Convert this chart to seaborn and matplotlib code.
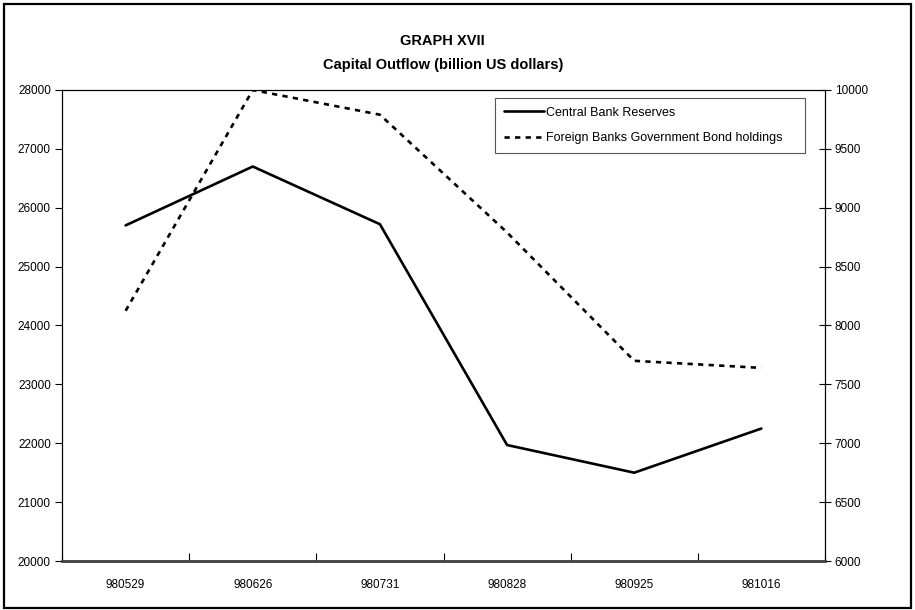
# ----------------------------------------------------------
# GRAPH XVII - capital outflow, two axes line chart
# ----------------------------------------------------------
import seaborn as sns
import pandas as pd
import matplotlib.pyplot as plt
from matplotlib.patches import Rectangle
from matplotlib.ticker import FixedLocator, NullFormatter

# ----------------------------------------------------------
# data
# ----------------------------------------------------------
dates = ['980529', '980626', '980731', '980828', '980925', '981016']
reserves = [25700, 26700, 25720, 21970, 21500, 22250]
bond_holdings = [8125, 10000, 9790, 8790, 7700, 7640]
left_ticks = [20000, 21000, 22000, 23000, 24000, 25000, 26000, 27000, 28000]
right_ticks = [6000, 6500, 7000, 7500, 8000, 8500, 9000, 9500, 10000]

df = pd.DataFrame({'date': dates, 'reserves': reserves, 'bonds': bond_holdings})

# ----------------------------------------------------------
# style
# ----------------------------------------------------------
sns.set_style('white')
plt.rcParams['font.family'] = ['Liberation Sans', 'DejaVu Sans']
plt.rcParams['text.color'] = 'black'
plt.rcParams['xtick.color'] = 'black'
plt.rcParams['ytick.color'] = 'black'
plt.rcParams['axes.labelcolor'] = 'black'

fig = plt.figure(figsize=(9.15, 6.1), dpi=100)
fig.patches.append(Rectangle((0.004, 0.004), 0.992, 0.99, transform=fig.transFigure,
                             fill=False, edgecolor='black', linewidth=1.6))
ax = fig.add_axes([0.0678, 0.0803, 0.8338, 0.7722])
ax2 = ax.twinx()

sns.lineplot(data=df, x='date', y='reserves', ax=ax, color='black', linewidth=1.9,
             label='Central Bank Reserves', legend=False, sort=False)
sns.lineplot(data=df, x='date', y='bonds', ax=ax2, color='black', linewidth=1.9,
             linestyle=(0, (2, 2)), label='Foreign Banks Government Bond holdings',
             legend=False, sort=False)

ax.set_xlim(-0.5, len(dates) - 0.5)
ax.set_ylim(20000, 28000)
ax2.set_ylim(6000, 10000)
ax.set_yticks(left_ticks)
ax2.set_yticks(right_ticks)
ax.set_xlabel('')
ax.set_ylabel('')
ax2.set_ylabel('')

# x ticks sit between categories, labels at centres
ax.xaxis.set_minor_locator(FixedLocator([i + 0.5 for i in range(-1, len(dates))]))
ax.xaxis.set_minor_formatter(NullFormatter())
ax.tick_params(axis='x', which='major', length=0, pad=13, labelsize=8.5, bottom=True)
ax.tick_params(axis='x', which='minor', direction='in', length=6, width=0.8, color='black',
               bottom=True)
ax.tick_params(axis='y', direction='out', length=5, width=0.8, color='black',
               labelsize=8.5, left=True, pad=3)
ax2.tick_params(axis='y', direction='inout', length=8, width=0.8, color='black',
                labelsize=8.5, right=True, pad=3)

for a in (ax, ax2):
    for side in ['top', 'left', 'right']:
        a.spines[side].set_color('black')
        a.spines[side].set_linewidth(0.8)
    a.spines['bottom'].set_color('#444444')
    a.spines['bottom'].set_linewidth(1.8)

fig.text(0.484, 0.932, 'GRAPH XVII', ha='center', va='center', fontsize=10.5, fontweight='bold')
fig.text(0.484, 0.894, 'Capital Outflow (billion US dollars)', ha='center', va='center',
         fontsize=10.5, fontweight='bold')

h1, l1 = ax.get_legend_handles_labels()
h2, l2 = ax2.get_legend_handles_labels()
leg = ax2.legend(h1 + h2, l1 + l2, loc='upper left', bbox_to_anchor=(0.5675, 0.983, 0.4065, 0.0),
                 mode='expand', borderaxespad=0, fontsize=9, handlelength=3.2,
                 handletextpad=0.15, labelspacing=1.1, borderpad=0.7, fancybox=False,
                 frameon=True, edgecolor='#555555', framealpha=1)
leg.get_frame().set_linewidth(0.8)

plt.savefig('out.png', dpi=100)
plt.close()
